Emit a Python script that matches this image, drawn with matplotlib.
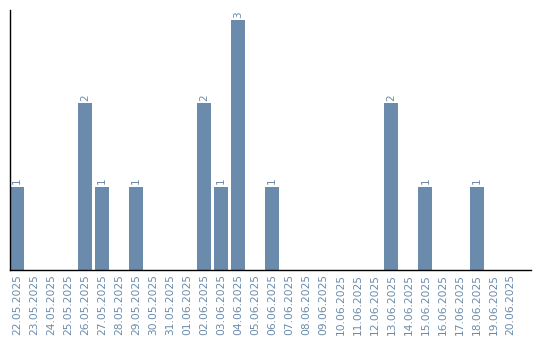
import matplotlib
matplotlib.use("Agg")
import matplotlib.pyplot as plt
import numpy as np

# Daten: Anzahl pro Tag
dates = ["22.05.2025", "23.05.2025", "24.05.2025", "25.05.2025", "26.05.2025",
         "27.05.2025", "28.05.2025", "29.05.2025", "30.05.2025", "31.05.2025",
         "01.06.2025", "02.06.2025", "03.06.2025", "04.06.2025", "05.06.2025",
         "06.06.2025", "07.06.2025", "08.06.2025", "09.06.2025", "10.06.2025",
         "11.06.2025", "12.06.2025", "13.06.2025", "14.06.2025", "15.06.2025",
         "16.06.2025", "17.06.2025", "18.06.2025", "19.06.2025", "20.06.2025"]
counts = [1, 0, 0, 0, 2, 1, 0, 1, 0, 0,
          0, 2, 1, 3, 0, 1, 0, 0, 0, 0,
          0, 0, 2, 0, 1, 0, 0, 1, 0, 0]

bar_color = "#6a8bab"
text_color = "#6a8bab"

fig = plt.figure(figsize=(5.4, 3.4), dpi=100)
ax = fig.add_axes([10 / 540, 70 / 340, 521 / 540, 260 / 340])

x = np.arange(len(dates))
bars = ax.bar(x, counts, width=0.82, color=bar_color)

for xi, c in zip(x, counts):
    if c > 0:
        ax.text(xi, c + 0.03, str(c), rotation=90, ha="center", va="bottom",
                fontsize=7.5, color=text_color)

ax.set_xlim(-0.41, 30.2)
ax.set_ylim(0, 3.12)
ax.set_xticks(x)
ax.set_xticklabels(dates, rotation=90, fontsize=7.7, color=text_color)
ax.tick_params(axis="x", length=0, pad=3)
ax.set_yticks([])

ax.spines["top"].set_visible(False)
ax.spines["right"].set_visible(False)
ax.spines["left"].set_linewidth(1.0)
ax.spines["bottom"].set_linewidth(1.0)

fig.savefig("out.png", dpi=100)
